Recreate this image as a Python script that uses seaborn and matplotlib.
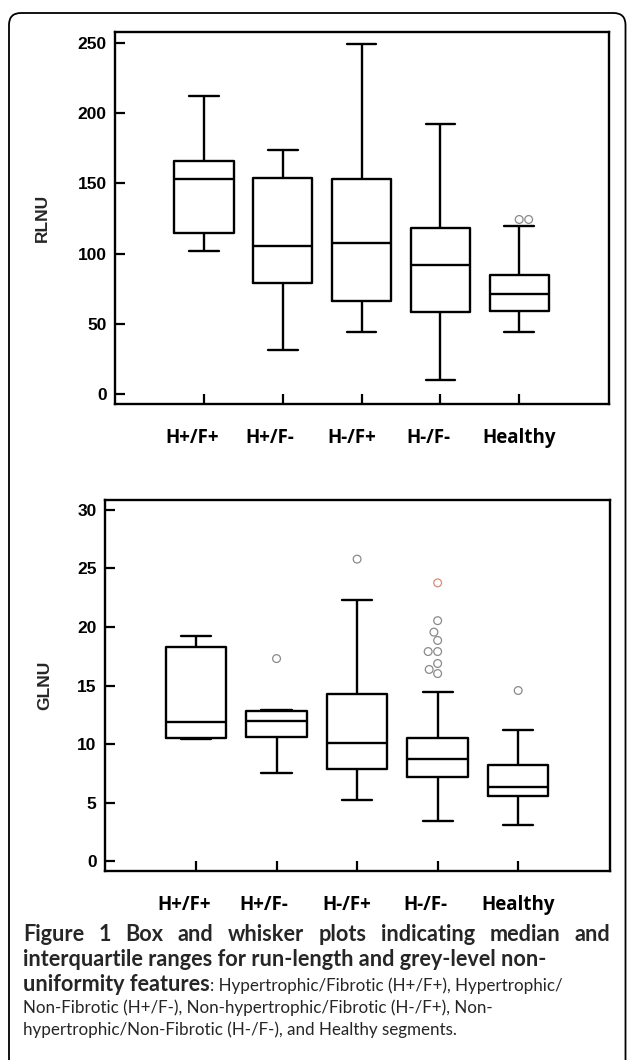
import numpy as np
import pandas as pd
import matplotlib
matplotlib.use("Agg")
import matplotlib.pyplot as plt
import seaborn as sns
from matplotlib.patches import FancyBboxPatch
from matplotlib.transforms import IdentityTransform, ScaledTranslation

# ---------------- data ----------------
categories = ["H+/F+", "H+/F-", "H-/F+", "H-/F-", "Healthy"]

rlnu_lower = [101.5, 31, 44, 10, 44]
rlnu_q1 = [115, 79, 66.6, 58.6, 59.3]
rlnu_median = [153, 105.5, 107.7, 92, 71.4]
rlnu_q3 = [166, 153.5, 153, 118, 84.7]
rlnu_upper = [212, 174, 249, 192, 120]
rlnu_outlier_group = ["Healthy", "Healthy"]
rlnu_outlier_value = [124.3, 124.3]
rlnu_ticks = [0, 50, 100, 150, 200, 250]

glnu_lower = [10.4, 7.5, 5.2, 3.43, 3.1]
glnu_q1 = [10.5, 10.57, 7.86, 7.14, 5.57]
glnu_median = [11.9, 12.0, 10.06, 8.71, 6.37]
glnu_q3 = [18.3, 12.86, 14.26, 10.49, 8.2]
glnu_upper = [19.2, 12.9, 22.3, 14.46, 11.23]
glnu_outlier_group = ["H+/F-", "H-/F+", "H-/F-", "H-/F-", "H-/F-", "H-/F-",
                      "H-/F-", "H-/F-", "H-/F-", "H-/F-", "Healthy"]
glnu_outlier_value = [17.3, 25.8, 20.54, 19.56, 18.85, 17.9, 17.9, 16.88,
                      16.37, 16.02, 14.57]
glnu_extreme_group = ["H-/F-"]
glnu_extreme_value = [23.77]
glnu_ticks = [0, 5, 10, 15, 20, 25, 30]

caption_bold_1 = "Figure 1 Box and whisker plots indicating median and"
caption_bold_2 = "interquartile ranges for run-length and grey-level non-"
caption_bold_3 = "uniformity features"
caption_reg_3 = ": Hypertrophic/Fibrotic (H+/F+), Hypertrophic/"
caption_reg_4 = "Non-Fibrotic (H+/F-), Non-hypertrophic/Fibrotic (H-/F+), Non-"
caption_reg_5 = "hypertrophic/Non-Fibrotic (H-/F-), and Healthy segments."


def summary_frame(lo, q1, med, q3, hi):
    rows = []
    for c, a, b, m, d, e in zip(categories, lo, q1, med, q3, hi):
        for v in (a, b, m, d, e):
            rows.append((c, v))
    return pd.DataFrame(rows, columns=["group", "value"])


rlnu_df = summary_frame(rlnu_lower, rlnu_q1, rlnu_median, rlnu_q3, rlnu_upper)
glnu_df = summary_frame(glnu_lower, glnu_q1, glnu_median, glnu_q3, glnu_upper)
rlnu_out = pd.DataFrame({"group": rlnu_outlier_group, "value": rlnu_outlier_value})
glnu_out = pd.DataFrame({"group": glnu_outlier_group, "value": glnu_outlier_value})
glnu_ext = pd.DataFrame({"group": glnu_extreme_group, "value": glnu_extreme_value})

# ---------------- style ----------------
sns.set_style("ticks")
plt.rcParams["font.family"] = ["Liberation Sans", "DejaVu Sans"]

W, H = 627, 1060
fig = plt.figure(figsize=(W / 100, H / 100), dpi=100)
renderer = fig.canvas.get_renderer()
hum_font = ["Lato", "DejaVu Sans"]
label_font = ["Open Sans", "DejaVu Sans"]


def text_width(s, **kw):
    t = fig.text(0, 0, s, **kw)
    w = t.get_window_extent(renderer).width
    t.remove()
    return w


def fit_size(s, target, **kw):
    w = text_width(s, fontsize=10, **kw)
    return 10 * target / w


label_shift_px = [-12, -13, -10, -12, 0]


def px_axes(left, right, top, bottom):
    return fig.add_axes([left / W, 1 - bottom / H, (right - left) / W, (bottom - top) / H])


ax1 = px_axes(115, 609, 32, 404)
ax2 = px_axes(105, 610, 500, 871)


def style_panel(ax, ylim, ticks, ylabel, labx):
    ax.set_ylim(*ylim)
    ax.set_xlim(-1.13, 5.14)
    ax.set_yticks(ticks)
    ax.set_yticklabels([str(t) for t in ticks], fontsize=12.5, fontweight="bold")
    ax.set_xticks(range(len(categories)))
    ax.set_xticklabels(categories, fontsize=13.5, fontweight="bold",
                       family=label_font)
    ax.tick_params(axis="y", direction="in", length=7, width=1.6, pad=6, colors="black")
    ax.tick_params(axis="x", direction="in", length=7, width=1.6, pad=17, colors="black")
    for lab, dx in zip(ax.get_xticklabels(), label_shift_px):
        lab.set_transform(lab.get_transform() + ScaledTranslation(dx / 100, 0, fig.dpi_scale_trans))
    for s in ax.spines.values():
        s.set_visible(True)
        s.set_linewidth(1.7)
        s.set_color("black")
    ax.set_xlabel("")
    ax.set_ylabel(ylabel, fontsize=12.5, fontweight="bold")
    ax.yaxis.set_label_coords(labx, 0.5)


def draw_panel(ax, df, out):
    sns.boxplot(data=df, x="group", y="value", order=categories, whis=(0, 100),
                fill=False, color="black", linecolor="black", linewidth=1.7,
                width=0.75, showfliers=False, ax=ax)
    sns.swarmplot(data=out, x="group", y="value", order=categories, size=5.6,
                  facecolor="none", edgecolor="#8a8a8a", linewidth=0.9, ax=ax)


draw_panel(ax1, rlnu_df, rlnu_out)
draw_panel(ax2, glnu_df, glnu_out)
sns.swarmplot(data=glnu_ext, x="group", y="value", order=categories, size=5.6,
              facecolor="none", edgecolor="#d98a7a", linewidth=0.9, ax=ax2)
style_panel(ax1, (-7.1, 257.8), rlnu_ticks, "RLNU", -0.132)
style_panel(ax2, (-0.85, 30.85), glnu_ticks, "GLNU", -0.105)

# ---------------- frame ----------------
frame = FancyBboxPatch((9, -20), 616.5, (H - 13) + 20,
                       boxstyle="round,pad=0,rounding_size=12",
                       transform=IdentityTransform(), fill=False,
                       edgecolor="black", linewidth=1.3, zorder=0)
fig.patches.append(frame)

# ---------------- caption ----------------
x0 = 23
bold_size = fit_size(caption_bold_2, 544 - x0, family=hum_font, fontweight="bold")
reg_size = fit_size(caption_reg_5, 456 - x0, family=hum_font)
bkw = dict(family=hum_font, fontweight="bold", fontsize=bold_size)
rkw = dict(family=hum_font, fontsize=reg_size)


def put(x, ybase, s, **kw):
    fig.text(x / W, 1 - ybase / H, s, va="baseline", ha="left", **kw)


def justified(words_kw, ybase, right=610):
    widths = [text_width(w, **k) for w, k in words_kw]
    gap = (right - x0 - sum(widths)) / (len(words_kw) - 1)
    x = x0
    for (w, k), wd in zip(words_kw, widths):
        put(x, ybase, w, **k)
        x += wd + gap


base = [941, 966, 991, 1013, 1035]
justified([(w, bkw) for w in caption_bold_1.split()], base[0])
put(x0, base[1], caption_bold_2, **bkw)
wb = text_width(caption_bold_3, **bkw)
put(x0, base[2], caption_bold_3, **bkw)
put(x0 + wb, base[2], caption_reg_3, **rkw)
put(x0, base[3], caption_reg_4, **rkw)
put(x0, base[4], caption_reg_5, **rkw)

fig.savefig("out.png", dpi=100)
